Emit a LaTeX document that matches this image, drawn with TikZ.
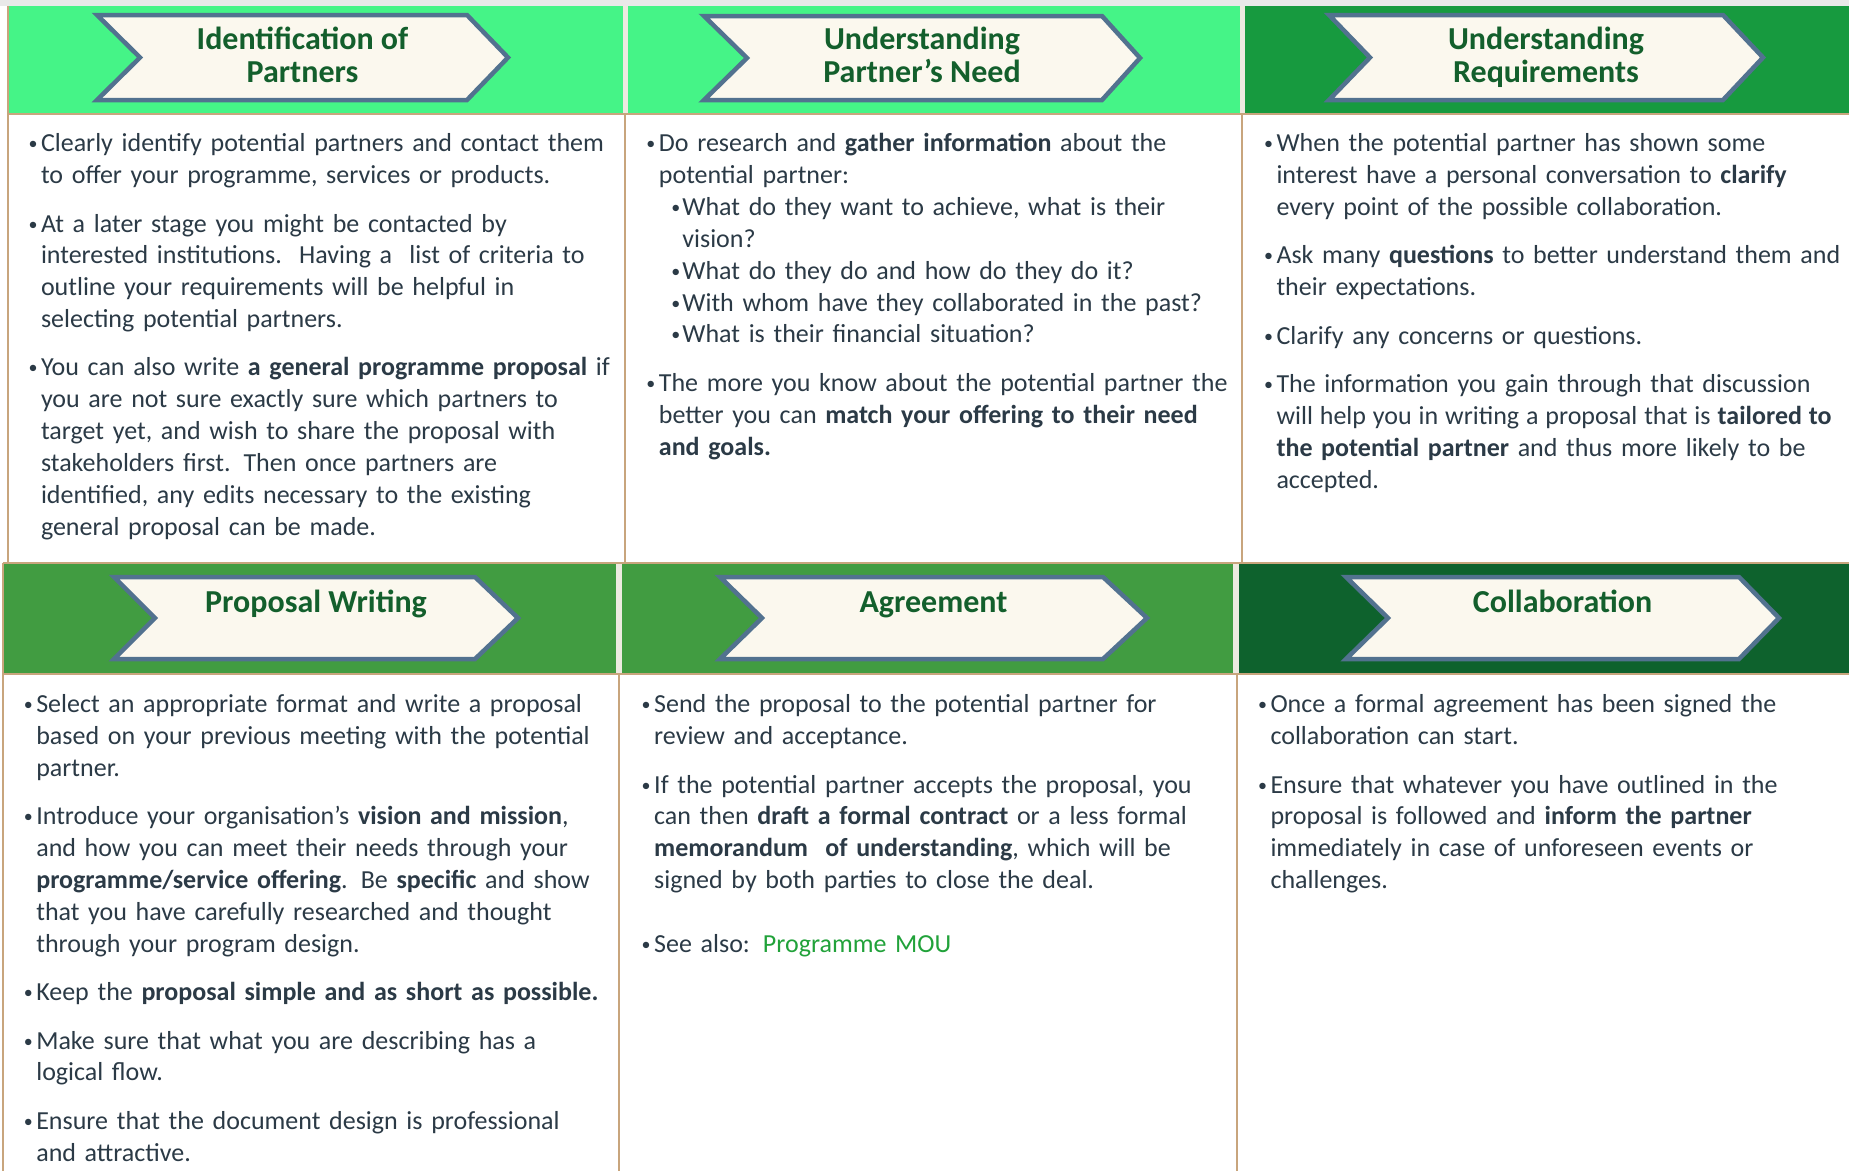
\documentclass[tikz,border=0pt]{standalone}
\usepackage{fontspec}
\setmainfont{Carlito}

\definecolor{hdrA}{HTML}{45F487}
\definecolor{hdrB}{HTML}{179A3F}
\definecolor{hdrC}{HTML}{419C41}
\definecolor{hdrD}{HTML}{0E622D}
\definecolor{gapstrip}{HTML}{EDEAE0}
\definecolor{topstrip}{HTML}{E9E9E9}
\definecolor{tanline}{HTML}{C8A57D}
\definecolor{chevfill}{HTML}{FBF8EE}
\definecolor{chevedge}{HTML}{52728F}
\definecolor{headtxt}{HTML}{135F2C}
\definecolor{bodytxt}{HTML}{2B3A46}
\definecolor{linkgreen}{HTML}{21A23A}

% body text: bulleted paragraphs with hanging indent
\newcommand\bodyfont{\fontsize{26}{31.85}\selectfont}
\newcommand\bul{\hskip-1pt\raisebox{2pt}{\fontsize{18}{18}\selectfont •}}
\newcommand\itm[1]{\par\hangindent=11.5pt\hangafter=1\noindent
  \hbox to 11.5pt{\bul\hss}\rule{0pt}{22pt}#1\par}
\newcommand\subitm[1]{\par\hangindent=35pt\hangafter=1\noindent
  \hskip25pt\hbox to 10pt{\bul\hss}\rule{0pt}{22pt}#1\par}
\newcommand\gap{\vskip16.5pt}

% chevron banner: left x, notch x, right corner x, tip x, top y, bottom y
\newcommand\chevron[6]{%
  \draw[chev] (#1,#5) -- (#3,#5) -- (#4,{(#5+#6)/2}) -- (#3,#6) -- (#1,#6)
    -- (#2,{(#5+#6)/2}) -- cycle;}

\begin{document}
\begin{tikzpicture}[x=1pt,y=-1pt,
  cell/.style={draw=tanline,line width=2pt},
  chev/.style={draw=chevedge,fill=chevfill,line width=4.5pt,line join=miter},
  head/.style={anchor=north,inner sep=0pt,align=center,text=headtxt,
    font=\fontsize{32}{33}\selectfont\bfseries},
  body/.style={anchor=north west,inner sep=0pt,outer sep=0pt,text width=700pt,
    align=left,text=bodytxt,font=\bodyfont}]
\useasboundingbox (0,0) rectangle (1849,1170);
\fill[white] (0,0) rectangle (1849,1170);
\fill[topstrip] (0,0) rectangle (1849,6);

% ---- upper row: headers
\fill[gapstrip] (8,6) rectangle (1849,114);
\fill[hdrA] (8,6) rectangle (623,114);
\fill[hdrA] (628,6) rectangle (1240,114);
\fill[hdrB] (1245,6) rectangle (1849,114);
\draw[cell] (8,6) -- (8,114);
% ---- upper row: text cells
\draw[cell] (8,114) rectangle (625,563);
\draw[cell] (625,114) rectangle (1242,563);
\draw[cell] (1242,114) rectangle (1852,563);

% ---- lower row: headers
\fill[gapstrip] (3,563) rectangle (1849,674);
\fill[hdrC] (3,563) rectangle (616,674);
\fill[hdrC] (622,563) rectangle (1233,674);
\fill[hdrD] (1239,563) rectangle (1849,674);
\draw[cell] (3,563) -- (1852,563);
\draw[cell] (3,563) -- (3,674);
% ---- lower row: text cells
\draw[cell] (3,674) rectangle (619,1172);
\draw[cell] (619,674) rectangle (1237,1172);
\draw[cell] (1237,674) rectangle (1852,1172);

% ---- banners
\chevron{97}{140}{467}{508}{15}{100}
\chevron{704}{747}{1102}{1140}{16}{100}
\chevron{1329}{1370}{1723}{1763}{15}{100}
\chevron{114}{155}{475}{518}{577}{659}
\chevron{720}{762}{1103}{1147}{577}{659}
\chevron{1346}{1388}{1739}{1779}{577}{659}

\node[head] (h1) at (302.5,23) {\rule{0pt}{26pt}Identification of\\Partners};
\node[head] (h2) at (922,23) {\rule{0pt}{26pt}Understanding\\Partner’s Need};
\node[head] (h3) at (1546,23) {\rule{0pt}{26pt}Understanding\\Requirements};
\node[head] (h4) at (316,586) {\rule{0pt}{26pt}Proposal Writing};
\node[head] (h5) at (933.5,586) {\rule{0pt}{26pt}Agreement};
\node[head] (h6) at (1562.5,586) {\rule{0pt}{26pt}Collaboration};

% ---- upper row text
\node[body] (b1) at (29.5,120) {%
\itm{Clearly identify potential partners and contact them\newline
to offer your programme, services or products.}\gap
\itm{At a later stage you might be contacted by\newline
interested institutions.\ \ Having a\ \ list of criteria to\newline
outline your requirements will be helpful in\newline
selecting potential partners.}\gap
\itm{You can also write \textbf{a general programme proposal} if\newline
you are not sure exactly sure which partners to\newline
target yet, and wish to share the proposal with\newline
stakeholders first. Then once partners are\newline
identified, any edits necessary to the existing\newline
general proposal can be made.}};

\node[body] (b2) at (647.4,120) {%
\itm{Do research and \textbf{gather information} about the\newline
potential partner:}
\subitm{What do they want to achieve, what is their\newline vision?}
\subitm{What do they do and how do they do it?}
\subitm{With whom have they collaborated in the past?}
\subitm{What is their financial situation?}\gap
\itm{The more you know about the potential partner the\newline
better you can \textbf{match your offering to their need}\newline
\textbf{and goals.}}};

\node[body] (b3) at (1265,120) {%
\itm{When the potential partner has shown some\newline
interest have a personal conversation to \textbf{clarify}\newline
every point of the possible collaboration.}\gap
\itm{Ask many \textbf{questions} to better understand them and\newline
their expectations.}\gap
\itm{Clarify any concerns or questions.}\gap
\itm{The information you gain through that discussion\newline
{\spaceskip=6.9pt will help you in writing a proposal that is \textbf{tailored to}}\newline
\textbf{the potential partner} and thus more likely to be\newline
accepted.}};

% ---- lower row text
\node[body] (b4) at (24.8,681) {%
\itm{Select an appropriate format and write a proposal\newline
based on your previous meeting with the potential\newline
partner.}\gap
\itm{Introduce your organisation’s \textbf{vision and mission},\newline
and how you can meet their needs through your\newline
\textbf{programme/service offering}. Be \textbf{specific} and show\newline
that you have carefully researched and thought\newline
through your program design.}\gap
\itm{Keep the \textbf{proposal simple and as short as possible.}}\gap
\itm{Make sure that what you are describing has a\newline
logical flow.}\gap
\itm{Ensure that the document design is professional\newline
and attractive.}};

\node[body] (b5) at (642.7,681) {%
\itm{Send the proposal to the potential partner for\newline
review and acceptance.}\gap
\itm{If the potential partner accepts the proposal, you\newline
can then \textbf{draft a formal contract} or a less formal\newline
\textbf{memorandum\ \ of understanding}, which will be\newline
signed by both parties to close the deal.}\gap\vskip15.5pt
\itm{See also: \textcolor{linkgreen}{Programme MOU}}};

\node[body] (b6) at (1259,681) {%
\itm{Once a formal agreement has been signed the\newline
collaboration can start.}\gap
\itm{Ensure that whatever you have outlined in the\newline
proposal is followed and \textbf{inform the partner}\newline
immediately in case of unforeseen events or\newline
challenges.}};
\end{tikzpicture}
\end{document}
